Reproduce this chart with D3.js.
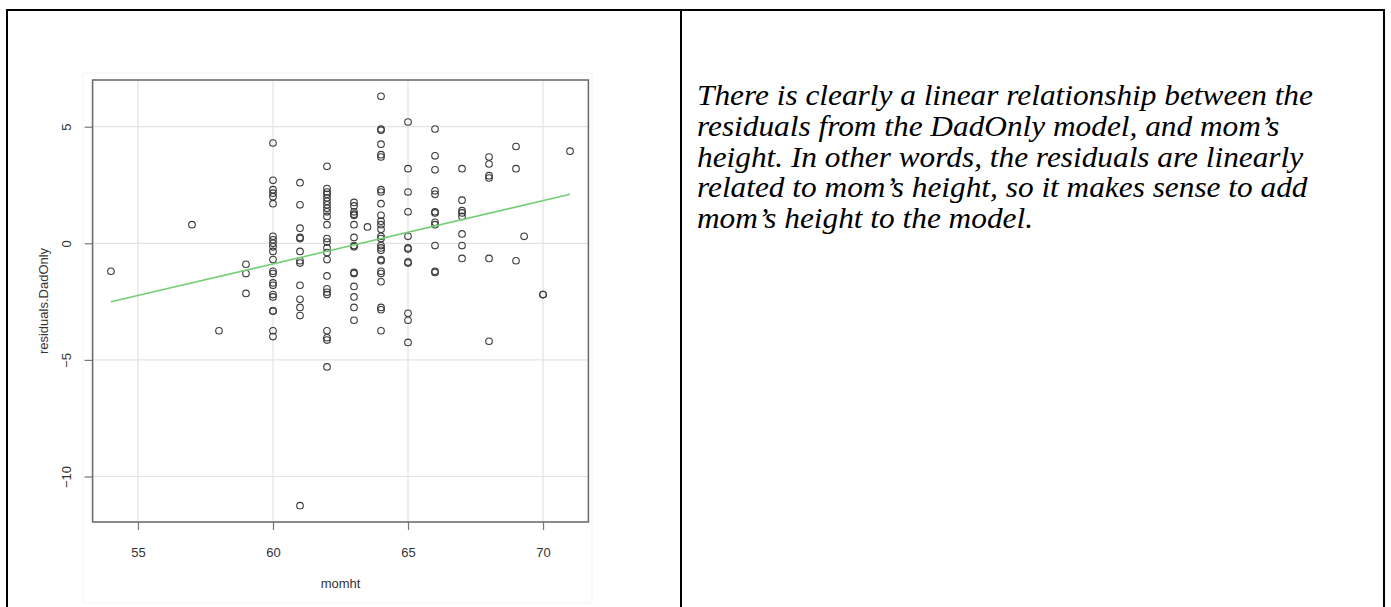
<!DOCTYPE html>
<html>
<head>
<meta charset="utf-8">
<script src="https://cdn.jsdelivr.net/npm/d3@7"></script>
<style>
  body { margin: 0; background: #fff; }
  svg { display: block; }
</style>
</head>
<body>
<svg id="chart" width="1391" height="607"></svg>
<script>
// mother's height levels and the DadOnly residuals
const momhtLevels = [54, 57, 58, 59, 60, 61, 62, 63, 63.5, 64, 65, 66, 67, 68, 69, 69.3, 70, 71];
const residualsByLevel = [
  [-1.2],
  [0.8],
  [-3.75],
  [-0.9, -1.3, -2.15],
  [4.3, 2.7, 2.3, 2.15, 2.0, 1.7, 0.3, 0.15, 0.0, -0.15, -0.35, -0.7, -1.2, -1.3, -1.7, -1.8, -2.2, -2.3, -2.9, -2.9, -3.75, -4.0],
  [2.6, 1.65, 0.65, 0.25, 0.2, -0.35, -0.75, -0.85, -1.8, -2.4, -2.75, -3.1, -11.25],
  [3.3, 2.35, 2.2, 2.1, 1.95, 1.8, 1.65, 1.5, 1.35, 1.15, 0.8, 0.2, 0.05, -0.2, -0.4, -0.7, -1.4, -1.95, -2.1, -2.2, -3.75, -4.05, -4.15, -5.3],
  [1.75, 1.6, 1.35, 1.25, 1.2, 0.8, 0.25, -0.1, -0.15, -1.25, -1.3, -1.85, -2.3, -2.75, -3.3],
  [0.7],
  [6.3, 4.9, 4.85, 4.25, 3.8, 3.7, 2.3, 2.2, 1.7, 1.2, 0.95, 0.8, 0.6, 0.3, 0.2, -0.1, -0.2, -0.3, -0.7, -0.75, -1.2, -1.3, -1.65, -2.75, -2.85, -3.75],
  [5.2, 3.2, 2.2, 1.35, 0.3, -0.2, -0.25, -0.8, -0.85, -3.0, -3.3, -4.25],
  [4.9, 3.75, 3.15, 2.25, 2.1, 1.35, 1.3, 0.9, 0.8, -0.1, -1.2, -1.25],
  [3.2, 1.85, 1.4, 1.3, 1.15, 0.4, -0.1, -0.65],
  [3.7, 3.4, 2.9, 2.8, -0.65, -4.2],
  [4.15, 3.2, -0.75],
  [0.3],
  [-2.2, -2.2],
  [3.95]
];

// fitted line (lm of residuals on momht), end points
const fitX = [54, 71];
const fitY = [-2.51, 2.1];

const xTicks = [55, 60, 65, 70];
const yTicks = [-10, -5, 0, 5];
const xLabel = "momht";
const yLabel = "residuals.DadOnly";

const noteLines = [
  "There is clearly a linear relationship between the",
  "residuals from the DadOnly model, and mom\u2019s",
  "height. In other words, the residuals are linearly",
  "related to mom\u2019s height, so it makes sense to add",
  "mom\u2019s height to the model."
];

const points = momhtLevels.flatMap((m, i) =>
  residualsByLevel[i].map((r) => ({ x: m, y: r }))
);

const svg = d3.select("#chart");

// table cells
const table = svg.append("g").attr("class", "table");
table.append("rect")
  .attr("x", 7).attr("y", 10)
  .attr("width", 1377).attr("height", 610)
  .attr("fill", "none")
  .attr("stroke", "#000")
  .attr("stroke-width", 2);
table.append("line")
  .attr("x1", 681).attr("x2", 681)
  .attr("y1", 10).attr("y2", 607)
  .attr("stroke", "#000")
  .attr("stroke-width", 2);

// plot region, R style: limits stretched 4% past the data
const box = { left: 92.6, right: 588.4, top: 80, bottom: 522 };

const xExt = d3.extent(points, (d) => d.x);
const yExt = d3.extent(points, (d) => d.y);
const xPad = (xExt[1] - xExt[0]) * 0.04;
const yPad = (yExt[1] - yExt[0]) * 0.04;

const x = d3.scaleLinear()
  .domain([xExt[0] - xPad, xExt[1] + xPad])
  .range([box.left, box.right]);
const y = d3.scaleLinear()
  .domain([yExt[0] - yPad, yExt[1] + yPad])
  .range([box.bottom, box.top]);

const plot = svg.append("g").attr("class", "plot");

// faint frame of the pasted plot image
plot.append("rect")
  .attr("x", 83).attr("y", 73)
  .attr("width", 509).attr("height", 530)
  .attr("fill", "none")
  .attr("stroke", "#f3f3f3")
  .attr("stroke-width", 1);

// grid
plot.append("g")
  .selectAll("line")
  .data(xTicks)
  .join("line")
  .attr("x1", (d) => x(d)).attr("x2", (d) => x(d))
  .attr("y1", box.top).attr("y2", box.bottom)
  .attr("stroke", "#e3e3e3")
  .attr("stroke-width", 1.2);
plot.append("g")
  .selectAll("line")
  .data(yTicks)
  .join("line")
  .attr("x1", box.left).attr("x2", box.right)
  .attr("y1", (d) => y(d)).attr("y2", (d) => y(d))
  .attr("stroke", "#e3e3e3")
  .attr("stroke-width", 1.2);

// axes
const xAxis = plot.append("g")
  .attr("transform", `translate(0,${box.bottom})`)
  .call(d3.axisBottom(x).tickValues(xTicks).tickSize(8).tickFormat(d3.format("d")));
xAxis.select(".domain").remove();
xAxis.selectAll(".tick line").attr("stroke", "#777").attr("stroke-width", 1.2);
xAxis.selectAll(".tick text")
  .attr("y", 34.5).attr("dy", 0)
  .attr("fill", "#333")
  .style("font-family", "'Liberation Sans', Arial, sans-serif")
  .style("font-size", "13px");

const yAxis = plot.append("g")
  .attr("transform", `translate(${box.left},0)`)
  .call(d3.axisLeft(y).tickValues(yTicks).tickSize(8).tickFormat(d3.format("d")));
yAxis.select(".domain").remove();
yAxis.selectAll(".tick line").attr("stroke", "#777").attr("stroke-width", 1.2);
yAxis.selectAll(".tick text")
  .attr("transform", "rotate(-90)")
  .attr("x", 0).attr("y", -22).attr("dy", 0)
  .attr("text-anchor", "middle")
  .attr("fill", "#333")
  .style("font-family", "'Liberation Sans', Arial, sans-serif")
  .style("font-size", "13px");

// box
plot.append("rect")
  .attr("x", box.left).attr("y", box.top)
  .attr("width", box.right - box.left)
  .attr("height", box.bottom - box.top)
  .attr("fill", "none")
  .attr("stroke", "#6e6e6e")
  .attr("stroke-width", 1.6);

// axis titles
plot.append("text")
  .attr("x", (box.left + box.right) / 2)
  .attr("y", 588)
  .attr("text-anchor", "middle")
  .attr("fill", "#333")
  .style("font-family", "'Liberation Sans', Arial, sans-serif")
  .style("font-size", "13px")
  .text(xLabel);
plot.append("text")
  .attr("transform", `translate(47.5,${(box.top + box.bottom) / 2}) rotate(-90)`)
  .attr("text-anchor", "middle")
  .attr("fill", "#333")
  .style("font-family", "'Liberation Sans', Arial, sans-serif")
  .style("font-size", "13px")
  .text(yLabel);

// points
plot.append("g")
  .selectAll("circle")
  .data(points)
  .join("circle")
  .attr("cx", (d) => x(d.x))
  .attr("cy", (d) => y(d.y))
  .attr("r", 3.3)
  .attr("fill", "none")
  .attr("stroke", "#3a3a3a")
  .attr("stroke-width", 1.1);

// fitted line
plot.append("path")
  .datum(fitX.map((v, i) => [v, fitY[i]]))
  .attr("d", d3.line().x((d) => x(d[0])).y((d) => y(d[1])))
  .attr("fill", "none")
  .attr("stroke", "#74cf74")
  .attr("stroke-width", 1.6);

// commentary in the right cell (the source page is slightly stretched sideways)
svg.append("g")
  .attr("transform", "translate(697,0) scale(1.08,1)")
  .selectAll("text")
  .data(noteLines)
  .join("text")
  .attr("x", 0)
  .attr("y", (d, i) => 105 + i * 30.8)
  .attr("fill", "#000")
  .style("font-family", "'Liberation Serif', 'Times New Roman', serif")
  .style("font-style", "italic")
  .style("font-size", "29px")
  .text((d) => d);
</script>
</body>
</html>
